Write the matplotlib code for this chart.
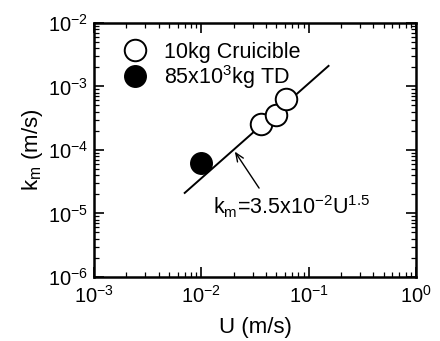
import numpy as np
import matplotlib
matplotlib.use('Agg')
import matplotlib.pyplot as plt

plt.rcParams['font.family'] = ['Liberation Sans', 'DejaVu Sans']
plt.rcParams['mathtext.fontset'] = 'custom'
plt.rcParams['mathtext.rm'] = 'Liberation Sans'
plt.rcParams['mathtext.it'] = 'Liberation Sans:italic'

# data
crucible_u = [0.036, 0.050, 0.061]
crucible_km = [2.6e-4, 3.5e-4, 6.3e-4]
td_u = [0.010]
td_km = [6.2e-5]
# fit line km = 3.5e-2 * U^1.5, end points
line_u = [0.0070, 0.153]
line_km = [2.1e-5, 2.1e-3]

fig = plt.figure(figsize=(4.4, 3.41), dpi=100)
ax = fig.add_axes([0.2136, 0.188, 0.732, 0.745])

ax.plot(line_u, line_km, color='black', lw=1.4, zorder=2)
ax.plot(crucible_u, crucible_km, 'o', ms=15.5, mfc='white', mec='black', mew=1.4,
        zorder=3, label='10kg Cruicible')
ax.plot(td_u, td_km, 'o', ms=15.5, mfc='black', mec='black', zorder=3,
        label='85x10$^3$kg TD')

ax.set_xscale('log')
ax.set_yscale('log')
ax.set_xlim(1e-3, 1)
ax.set_ylim(1e-6, 1e-2)

ax.annotate('', xy=(0.0205, 9.4e-5), xytext=(0.0345, 2.5e-5),
            arrowprops=dict(arrowstyle='->,head_length=0.6,head_width=0.25',
                            color='black', lw=1.0, shrinkA=0, shrinkB=0))
ax.text(0.0129, 9.8e-6, 'k$_\\mathrm{m}$=3.5x10$^{-2}$U$^{1.5}$', fontsize=15.5,
        ha='left', va='baseline')

ax.set_xlabel('U (m/s)', fontsize=16, labelpad=7)
ax.set_ylabel('k$_\\mathrm{m}$ (m/s)', fontsize=16, labelpad=2)

for s in ax.spines.values():
    s.set_linewidth(1.8)
ax.tick_params(which='both', direction='in', top=True, right=True, labelsize=14.5)
ax.tick_params(which='major', length=7, width=1.2)
ax.tick_params(axis='x', which='major', pad=6)
ax.tick_params(axis='y', which='major', pad=4)
ax.tick_params(which='minor', length=3.5, width=0.9)

ax.legend(loc='upper left', bbox_to_anchor=(0.04, 0.985), frameon=False,
          fontsize=15.5, handletextpad=0.75, labelspacing=0.0, borderpad=0.2,
          handlelength=1.2)

fig.savefig('out.png', dpi=100)
